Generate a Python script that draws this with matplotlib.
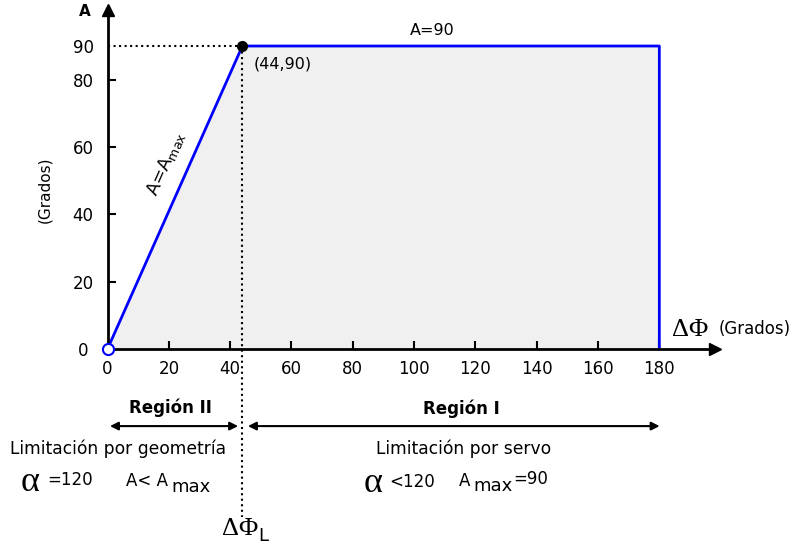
import numpy as np
import matplotlib.pyplot as plt

# curve A(dPhi)
phi_pts = [0, 44, 180, 180]
a_pts = [0, 90, 90, 0]
knee = (44, 90)

x_ticks = [0, 20, 40, 60, 80, 100, 120, 140, 160, 180]
y_ticks = [0, 20, 40, 60, 80, 90]

SERIF = "Liberation Serif"

fig = plt.figure(figsize=(7.93, 5.47), dpi=100)
# axes placed so that the origin sits where it does in the original sketch
ax = fig.add_axes([107.5 / 793, 198 / 547, 607 / 793, 339 / 547])
ax.set_xlim(0, 198)
ax.set_ylim(0, 100.7)

for s in ["top", "right"]:
    ax.spines[s].set_visible(False)
for s in ["left", "bottom"]:
    ax.spines[s].set_linewidth(2)
    ax.spines[s].set_zorder(5)

# arrow heads on the axes
ax.plot(1, 0, ">k", ms=9, transform=ax.get_yaxis_transform(), clip_on=False)
ax.plot(0, 1, "^k", ms=9, transform=ax.get_xaxis_transform(), clip_on=False)

ax.set_xticks(x_ticks)
ax.set_yticks(y_ticks)
ax.tick_params(direction="in", length=6, width=1.5, labelsize=12)
ax.tick_params(axis="x", pad=8)
ax.tick_params(axis="y", pad=10)
ax.yaxis.get_major_ticks()[-1].tick1line.set_visible(False)
ax.yaxis.get_major_ticks()[0].tick1line.set_visible(False)
ax.yaxis.get_major_ticks()[0].label1.set_x(-0.008)
ax.xaxis.get_major_ticks()[0].tick1line.set_visible(False)

ax.fill(phi_pts, a_pts, color="#f0f0f0", zorder=1)
ax.plot(phi_pts, a_pts, color="#0000ff", lw=2, zorder=3, clip_on=False)

# dotted guides
ax.plot([0, knee[0]], [knee[1], knee[1]], ":", color="k", lw=1.5, zorder=2)
ax.plot([knee[0], knee[0]], [knee[1], -50], ":", color="k", lw=1.5,
        zorder=2, clip_on=False)

ax.plot(0, 0, "o", ms=8, mfc="white", mec="#0000ff", mew=1.5, zorder=6,
        clip_on=False)
ax.plot(*knee, "o", ms=7, color="k", zorder=6)

# axis labels
ax.text(-7.3, 100.2, "A", fontsize=11, fontweight="bold", ha="center",
        va="center")
ax.text(-20.4, 47.2, "(Grados)", fontsize=11, rotation=90, ha="center",
        va="center")
ax.text(190, 5.6, "ΔΦ", fontsize=19, family=SERIF, ha="center",
        va="center")
ax.text(199.5, 5.8, "(Grados)", fontsize=12, ha="left", va="center",
        clip_on=False)

ax.text(106, 94.5, "A=90", fontsize=11.5, ha="center", va="center")
ax.text(47.8, 84.6, "(44,90)", fontsize=11.5, ha="left", va="center")
ax.text(19.2, 55, r"A=A$_{\mathregular{max}}$", fontsize=13, rotation=66,
        ha="center", va="center")

# regions
ax.text(20.5, -17.6, "Región II", fontsize=12, fontweight="bold",
        ha="center", va="center")
ax.text(115.5, -17.8, "Región I", fontsize=12, fontweight="bold",
        ha="center", va="center")
arrow = dict(arrowstyle="<|-|>", color="k", lw=1.5, mutation_scale=12,
             shrinkA=0, shrinkB=0)
ax.annotate("", xy=(0.8, -22.9), xytext=(42.6, -22.9), arrowprops=arrow,
            annotation_clip=False)
ax.annotate("", xy=(45.8, -22.9), xytext=(180.1, -22.9), arrowprops=arrow,
            annotation_clip=False)

ax.text(3.4, -29.7, "Limitación por geometría", fontsize=12.3, ha="center",
        va="center")
ax.text(116, -29.7, "Limitación por servo", fontsize=12.3, ha="center",
        va="center")

ax.text(-25.2, -39.6, "α", fontsize=26, family=SERIF, ha="center",
        va="center")
ax.text(-19.5, -38.8, "=120", fontsize=12, ha="left", va="center")
ax.text(6, -39.2, "A< A", fontsize=12, ha="left", va="center")
ax.text(20.8, -40.9, "max", fontsize=13, ha="left", va="center")

ax.text(86.8, -39.9, "α", fontsize=26, family=SERIF, ha="center",
        va="center")
ax.text(92, -39.4, "<120", fontsize=12, ha="left", va="center")
ax.text(114.5, -39.2, "A", fontsize=12, ha="left", va="center")
ax.text(119.5, -40.6, "max", fontsize=13, ha="left", va="center")
ax.text(132.3, -38.5, "=90", fontsize=12, ha="left", va="center")

ax.text(43.3, -53.6, "ΔΦ", fontsize=19, family=SERIF, ha="center",
        va="center")
ax.text(49.3, -55.6, "L", fontsize=13, ha="left", va="center")

fig.savefig("out.png", dpi=100)
